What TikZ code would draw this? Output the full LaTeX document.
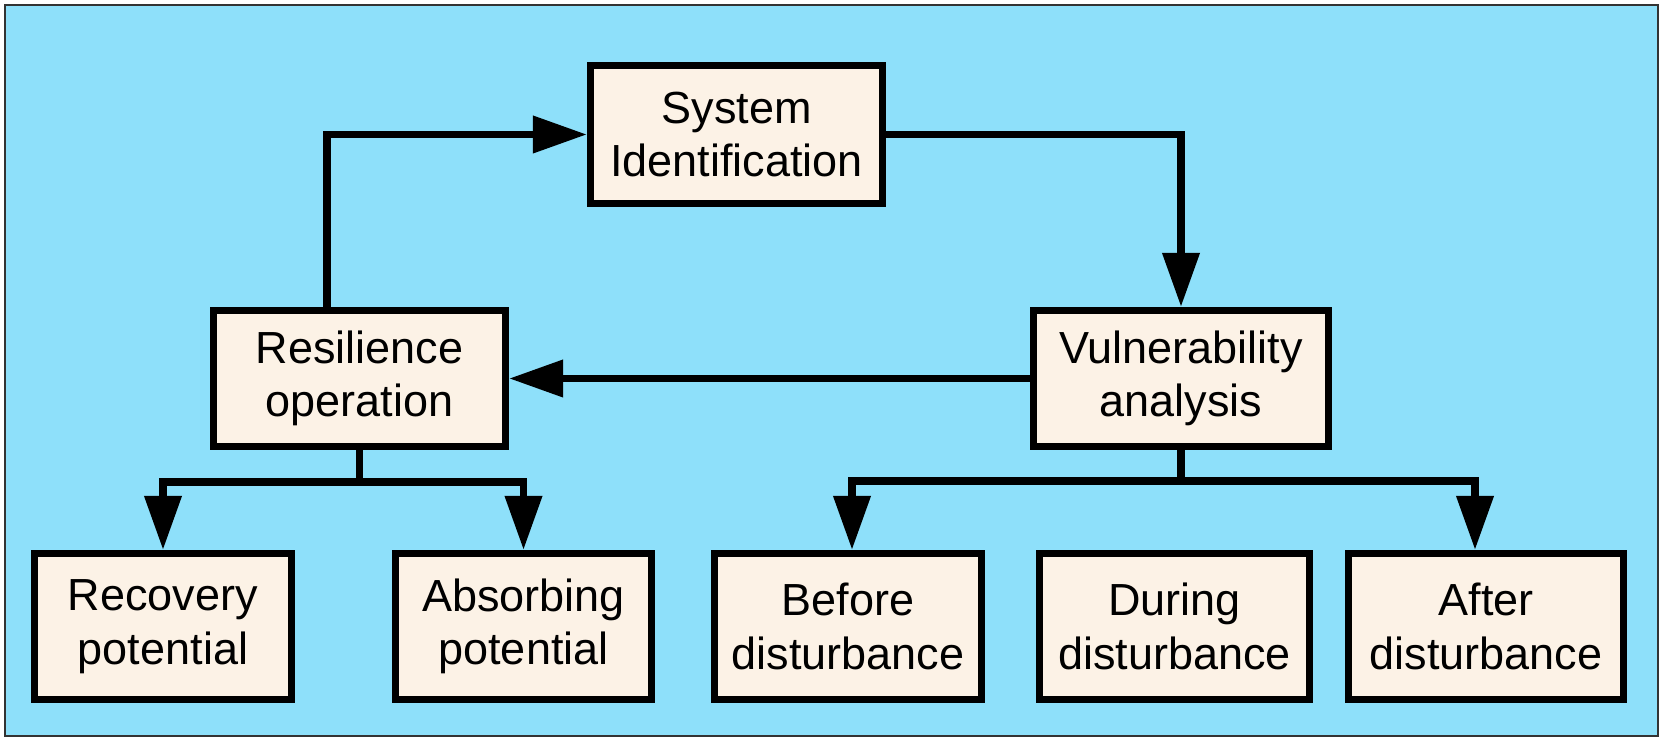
\documentclass[tikz,border=0pt]{standalone}
\usepackage{fontspec}
\setmainfont{Liberation Sans}
\usetikzlibrary{arrows.meta}
\definecolor{skyback}{RGB}{142,224,250}
\definecolor{boxfill}{RGB}{252,242,230}
\begin{document}
\begin{tikzpicture}[line width=2.1pt,>={Triangle[length=5.4mm,width=3.6mm]},
block/.style={draw,fill=boxfill,rectangle,inner sep=2pt,align=center,font=\fontsize{12.8}{15.2}\selectfont},
topblock/.style={block,minimum width=2.92cm,minimum height=1.36cm},
lowblock/.style={block,minimum height=1.46cm}]
\useasboundingbox (0,0) rectangle (16.63,7.42);
\draw[fill=skyback,draw=black!80,line width=0.6pt] (0.05,0.06) rectangle (16.58,7.37);
\draw (7.365,6.075) node[topblock,minimum height=1.38cm] (sysid) {System\\Identification};
\draw (3.595,3.635) node[topblock] (resil) {Resilience\\operation};
\draw (11.81,3.635) node[topblock,minimum width=2.95cm] (vuln) {Vulnerability\\analysis};
\draw (1.63,1.155) node[lowblock,minimum width=2.57cm] (recov) {Recovery\\potential};
\draw (5.235,1.155) node[lowblock,minimum width=2.56cm] (absorb) {Absorbing\\potential};
\draw (8.48,1.155) node[lowblock,minimum width=2.67cm] (before) {Before\\disturbance};
\draw (11.745,1.155) node[lowblock,minimum width=2.70cm] (during) {During\\disturbance};
\draw (14.86,1.155) node[lowblock,minimum width=2.75cm] (after) {After\\disturbance};
\draw[->] ([xshift=-0.325cm]resil.north) |- (sysid.west);
\draw[->] (sysid.east) -| (vuln.north);
\draw[->] (vuln.west) -- (resil.east);
\draw (resil.south) -- ++(0,-0.32) coordinate (resbranch);
\draw[->] (resbranch) -| (recov.north);
\draw[->] (resbranch) -| (absorb.north);
\draw (vuln.south) -- ++(0,-0.31) coordinate (vulbranch);
\draw[->] (vulbranch) -| ([xshift=0.04cm]before.north);
\draw[->] (vulbranch) -| ([xshift=-0.11cm]after.north);

\end{tikzpicture}
\end{document}
